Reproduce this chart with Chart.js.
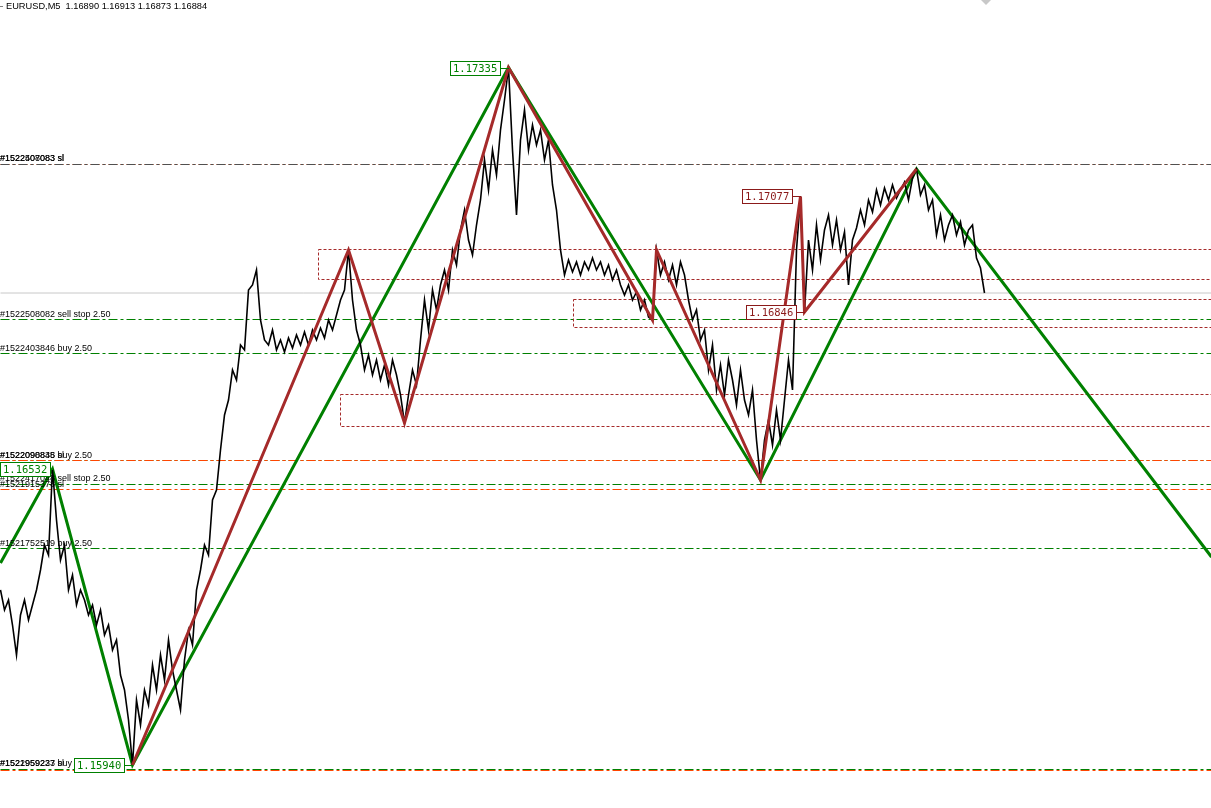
<!DOCTYPE html>
<html>
<head>
<meta charset="utf-8">
<title>EURUSD,M5</title>
<script src="https://cdn.jsdelivr.net/npm/chart.js@4.4.1/dist/chart.umd.min.js"></script>
<style>
    html, body { margin: 0; padding: 0; background: #ffffff; }
    #wrap { position: relative; width: 1211px; height: 808px; }
</style>
</head>
<body>
<div id="wrap"><canvas id="priceChart" width="1211" height="808"></canvas></div>
<script>
// EURUSD M5 - price, zigzag swings, order levels and zones

const symbolTitle = 'EURUSD,M5  1.16890 1.16913 1.16873 1.16884';
const barStep = 4;

const closes = [
    1.16290, 1.16250, 1.16270, 1.16220, 1.16160, 1.16240, 1.16270, 1.16230, 1.16260, 1.16290, 1.16330, 1.16380, 1.16360, 1.16532,
    1.16430, 1.16350, 1.16380, 1.16290, 1.16320, 1.16260, 1.16290, 1.16270, 1.16240, 1.16260, 1.16220, 1.16250, 1.16200, 1.16220, 1.16170, 1.16190, 1.16120, 1.16090, 1.16030, 1.15940,
    1.16070, 1.16020, 1.16090, 1.16060, 1.16140, 1.16090, 1.16160, 1.16110, 1.16190, 1.16130, 1.16090, 1.16050, 1.16150, 1.16210, 1.16180, 1.16290, 1.16330, 1.16380, 1.16360, 1.16470, 1.16490, 1.16570, 1.16640, 1.16670, 1.16730, 1.16710, 1.16780, 1.16770, 1.16890, 1.16900, 1.16930,
    1.16830, 1.16790, 1.16780, 1.16810, 1.16770, 1.16790, 1.16766, 1.16794, 1.16774, 1.16800, 1.16780, 1.16806, 1.16780, 1.16810, 1.16790, 1.16814, 1.16794, 1.16830, 1.16810, 1.16840, 1.16870, 1.16890, 1.16970,
    1.16870, 1.16810, 1.16780, 1.16730, 1.16760, 1.16720, 1.16750, 1.16710, 1.16740, 1.16700, 1.16750, 1.16720, 1.16680, 1.16624,
    1.16680, 1.16730, 1.16700, 1.16790, 1.16870, 1.16810, 1.16890, 1.16850, 1.16900, 1.16930, 1.16890, 1.16970, 1.16940, 1.17010, 1.17050, 1.16990, 1.16960, 1.17020, 1.17070, 1.17150, 1.17090, 1.17170, 1.17120, 1.17210, 1.17270, 1.17335,
    1.17170, 1.17040, 1.17190, 1.17250, 1.17170, 1.17220, 1.17180, 1.17210, 1.17150, 1.17190, 1.17100, 1.17050, 1.16970, 1.16920, 1.16950, 1.16926, 1.16946, 1.16920, 1.16946, 1.16930, 1.16954, 1.16930, 1.16946, 1.16920, 1.16940, 1.16910, 1.16930, 1.16900, 1.16880, 1.16900, 1.16870, 1.16886, 1.16850, 1.16870, 1.16836, 1.16830,
    1.16970, 1.16920, 1.16946, 1.16910, 1.16940, 1.16900, 1.16946, 1.16920, 1.16870, 1.16830, 1.16850, 1.16790, 1.16810, 1.16730, 1.16780, 1.16690, 1.16740, 1.16680, 1.16750, 1.16710, 1.16660, 1.16730, 1.16670, 1.16640, 1.16690, 1.16590, 1.16510,
    1.16590, 1.16630, 1.16580, 1.16650, 1.16590, 1.16670, 1.16750, 1.16690, 1.16970, 1.17077,
    1.16846, 1.16990, 1.16930, 1.17020, 1.16950, 1.17010, 1.17040, 1.16980, 1.17030, 1.16970, 1.17006, 1.16900, 1.16990, 1.17014, 1.17050, 1.17020, 1.17070, 1.17046, 1.17090, 1.17060, 1.17094, 1.17070, 1.17100, 1.17074, 1.17090, 1.17106, 1.17070, 1.17114, 1.17132,
    1.17080, 1.17100, 1.17050, 1.17070, 1.17000, 1.17040, 1.16990, 1.17020, 1.17040, 1.17000, 1.17026, 1.16980, 1.17010, 1.17020, 1.16954, 1.16934, 1.16884
];

// zigzag swing points (bar, price)
const greenSwingBars = [0, 52, 132, 508, 760, 916, 1211];
const greenSwingPrices = [1.16344, 1.16532, 1.15940, 1.17335, 1.16510, 1.17132, 1.16356];
const redSwingBars = [132, 348, 404, 508, 652, 656, 760, 800, 804, 916];
const redSwingPrices = [1.15940, 1.16970, 1.16624, 1.17335, 1.16830, 1.16970, 1.16510, 1.17077, 1.16846, 1.17132];

// price tags on swing points
const tagBars = [508, 800, 804, 52, 132];
const tagPrices = [1.17335, 1.17077, 1.16846, 1.16532, 1.15940];
const tagColors = ['#008000', '#8b1a1a', '#8b1a1a', '#008000', '#008000'];

// order levels: green = entry, orange-red = stop loss (first one listed sits on top)
const levelPrices = [1.17141, 1.17141, 1.16831, 1.16763, 1.16549, 1.16549, 1.16501, 1.16491, 1.16373, 1.15931, 1.15929];
const levelColors = ['#505050', '#ff4500', '#008000', '#008000', '#ff4500', '#008000', '#008000', '#ff4500', '#008000', '#008000', '#ff4500'];

const levelTextPrices = [1.17141, 1.17141, 1.16831, 1.16763, 1.16549, 1.16549, 1.16501, 1.16491, 1.16373, 1.15931, 1.15931];
const levelTexts = [
    '#1522508083 sl', '#1522407083 sl',
    '#1522508082 sell stop 2.50',
    '#1522403846 buy 2.50',
    '#1522098848 sl', '#1522090835 buy 2.50',
    '#1522417048 sell stop 2.50',
    '#1521915378 sl',
    '#1521752519 buy 2.50',
    '#1522959223 buy 2.50', '#1521959237 sl'
];

// dotted zones
const zoneStartBars = [318, 573, 340];
const zoneTops = [1.16971, 1.16871, 1.16681];
const zoneBottoms = [1.16911, 1.16815, 1.16617];

const bidPrice = 1.16884;
const lastBar = 1211;

const pricePoints = closes.map((c, i) => ({ x: i * barStep, y: c }));
const toPoints = (bars, prices) => bars.map((b, i) => ({ x: b, y: prices[i] }));

const datasets = [];

datasets.push({
    label: 'ZigZag small',
    data: toPoints(redSwingBars, redSwingPrices),
    borderColor: '#a52a2a',
    borderWidth: 3,
    order: 0
});
datasets.push({
    label: 'EURUSD',
    data: pricePoints,
    borderColor: '#000000',
    borderWidth: 1.6,
    order: 1
});
datasets.push({
    label: 'ZigZag large',
    data: toPoints(greenSwingBars, greenSwingPrices),
    borderColor: '#008000',
    borderWidth: 3,
    order: 2
});

zoneStartBars.forEach((start, i) => {
    datasets.push({
        label: 'zone ' + i,
        data: [
            { x: start, y: zoneTops[i] }, { x: lastBar, y: zoneTops[i] },
            { x: lastBar, y: zoneBottoms[i] }, { x: start, y: zoneBottoms[i] },
            { x: start, y: zoneTops[i] }
        ],
        borderColor: '#a52a2a',
        borderWidth: 1,
        borderDash: [3, 2],
        order: 3
    });
});

levelPrices.forEach((p, i) => {
    datasets.push({
        label: 'level ' + i,
        data: [{ x: 0, y: p }, { x: lastBar, y: p }],
        borderColor: levelColors[i],
        borderWidth: 1,
        borderDash: [9, 3, 3, 3],
        order: 4
    });
});

datasets.push({
    label: 'bid',
    data: [{ x: 0, y: bidPrice }, { x: lastBar, y: bidPrice }],
    borderColor: '#c8c8c8',
    borderWidth: 1,
    order: 5
});

datasets.forEach(ds => {
    ds.showLine = true;
    ds.pointRadius = 0;
    ds.fill = false;
    ds.tension = 0;
});

const mtLabels = {
    id: 'mtLabels',
    afterDatasetsDraw(chart) {
        const ctx = chart.ctx;
        const xs = chart.scales.x;
        const ys = chart.scales.y;
        ctx.save();

        // order texts on the left
        ctx.font = '9px "Liberation Sans", Arial, sans-serif';
        ctx.textAlign = 'left';
        ctx.textBaseline = 'bottom';
        levelTextPrices.forEach((p, i) => {
            const y = Math.round(ys.getPixelForValue(p));
            ctx.fillStyle = '#000000';
            ctx.fillText(levelTexts[i], 0, y - 1);
        });

        // swing price tags
        ctx.font = '10.5px "DejaVu Sans Mono", monospace';
        ctx.textBaseline = 'middle';
        tagBars.forEach((b, i) => {
            const px = Math.round(xs.getPixelForValue(b));
            const py = Math.round(ys.getPixelForValue(tagPrices[i])) + 0.5;
            const txt = tagPrices[i].toFixed(5);
            const w = Math.ceil(ctx.measureText(txt).width) + 5;
            const h = 14;
            let right = px - 9;
            let left = right - w;
            if (left < 0) { left = 0; right = w; }
            ctx.strokeStyle = tagColors[i];
            ctx.lineWidth = 1;
            ctx.beginPath();
            ctx.moveTo(right, py);
            ctx.lineTo(px, py);
            ctx.stroke();
            ctx.fillStyle = '#ffffff';
            ctx.fillRect(left + 0.5, py - h / 2, w, h);
            ctx.strokeRect(left + 0.5, py - h / 2, w, h);
            ctx.fillStyle = tagColors[i];
            ctx.fillText(txt, left + 3, py + 0.5);
        });

        // header
        ctx.font = '9.25px "Liberation Sans", Arial, sans-serif';
        ctx.textBaseline = 'top';
        ctx.fillStyle = '#000000';
        ctx.fillText(symbolTitle, 6, 2);
        ctx.fillStyle = '#808080';
        ctx.fillRect(0, 6, 3, 1);

        // chart shift marker
        ctx.fillStyle = '#c8c8c8';
        ctx.beginPath();
        ctx.moveTo(981, 0);
        ctx.lineTo(991, 0);
        ctx.lineTo(986, 5);
        ctx.closePath();
        ctx.fill();

        ctx.restore();
    }
};

new Chart(document.getElementById('priceChart').getContext('2d'), {
    type: 'scatter',
    data: { datasets: datasets },
    options: {
        responsive: false,
        animation: false,
        layout: { padding: 0 },
        plugins: {
            legend: { display: false },
            tooltip: { enabled: false }
        },
        scales: {
            x: { type: 'linear', min: -0.5, max: lastBar - 0.5, display: false },
            y: { type: 'linear', min: 1.15854, max: 1.17470, display: false }
        }
    },
    plugins: [mtLabels]
});
</script>
</body>
</html>
